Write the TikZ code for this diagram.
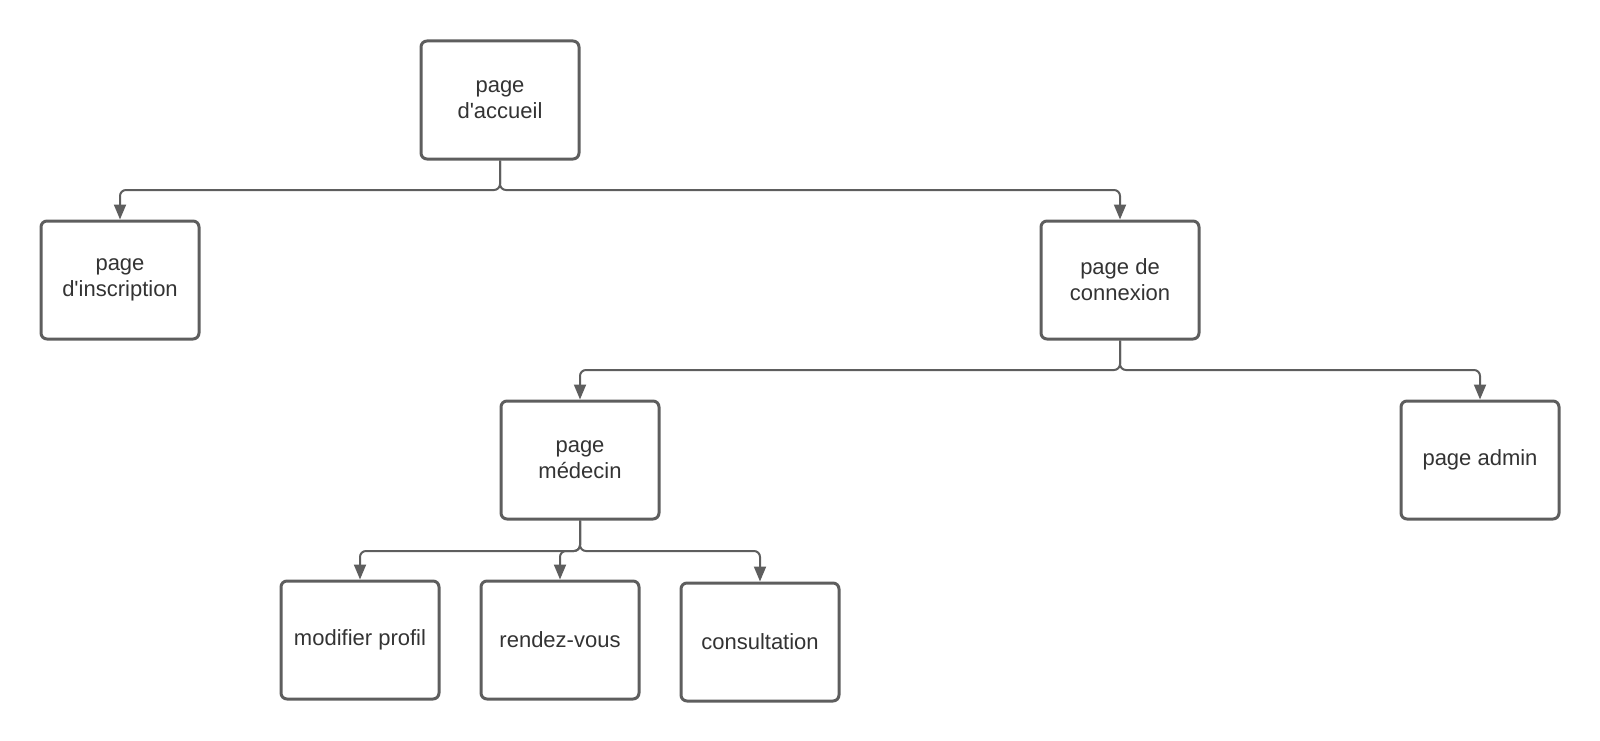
\documentclass[tikz,border=0pt]{standalone}
\usepackage{fontspec}
\setmainfont{Liberation Sans}
\usetikzlibrary{arrows.meta}
\definecolor{edge}{HTML}{5E5E5E}
\definecolor{ink}{HTML}{333333}
\begin{document}
\begin{tikzpicture}[x=1pt,y=-1pt,
  pagebox/.style={draw=edge, line width=3pt, rounded corners=6pt,
    minimum width=158pt, minimum height=118pt, align=center,
    font=\fontsize{22}{26}\selectfont, text=ink, inner sep=0pt},
  link/.style={draw=edge, line width=2pt, rounded corners=6pt,
    -{Triangle[length=15pt,width=12pt]}}]
\useasboundingbox (0,0) rectangle (1600,741);

% site pages
\node[pagebox] (accueil)     at (500,100)  {page\\d\textquotesingle accueil};
\node[pagebox] (inscription) at (120,280)  {page\\d\textquotesingle inscription};
\node[pagebox] (connexion)   at (1120,280) {page de\\connexion};
\node[pagebox] (medecin)     at (580,460)  {page\\médecin};
\node[pagebox] (admin)       at (1480,460) {page admin};
\node[pagebox] (profil)      at (360,640)  {modifier profil};
\node[pagebox] (rdv)         at (560,640)  {rendez-vous};
\node[pagebox] (consult)     at (760,642)  {consultation};

% branching points
\coordinate (j1) at (500,190);
\coordinate (j2) at (1120,370);
\coordinate (j3) at (580,551);

% navigation links
\draw[link] (accueil.south) -- (j1) -| (inscription.north);
\draw[link] (accueil.south) -- (j1) -| (connexion.north);
\draw[link] (connexion.south) -- (j2) -| (medecin.north);
\draw[link] (connexion.south) -- (j2) -| (admin.north);
\draw[link] (medecin.south) -- (j3) -| (profil.north);
\draw[link] (medecin.south) -- (j3) -| (rdv.north);
\draw[link] (medecin.south) -- (j3) -| (consult.north);
\end{tikzpicture}
\end{document}
